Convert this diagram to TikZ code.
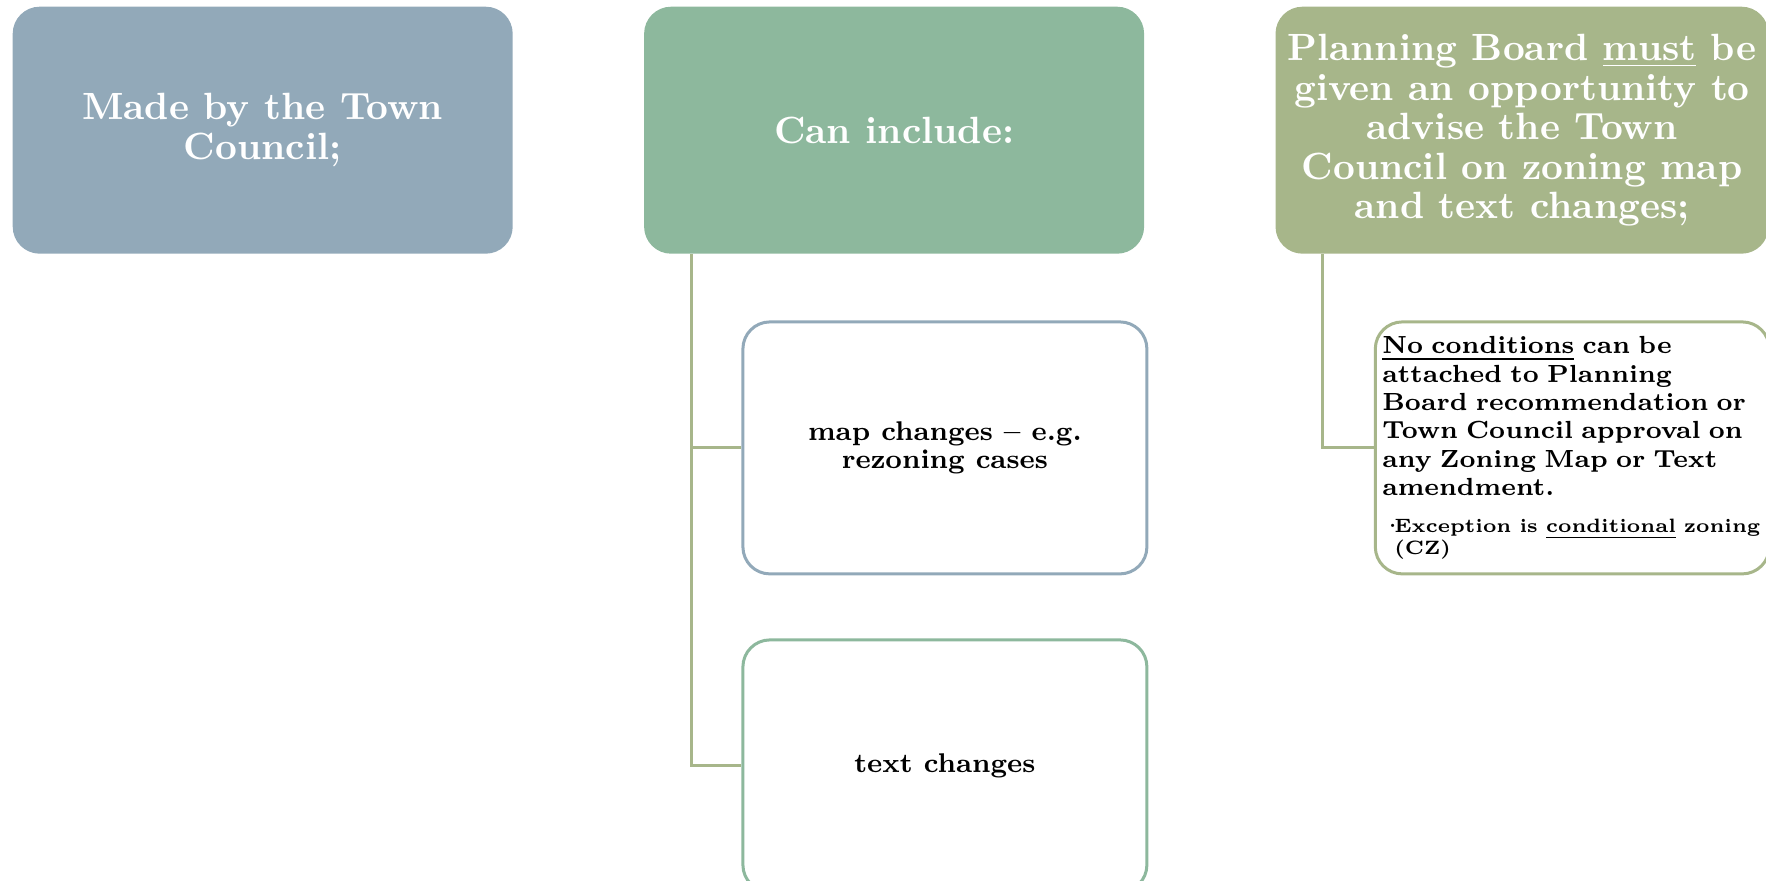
\documentclass[tikz,border=0pt]{standalone}
\usepackage{tikz}
\usetikzlibrary{positioning,calc}
\definecolor{slateblue}{RGB}{146,169,185}
\definecolor{sagegreen}{RGB}{141,184,157}
\definecolor{olivegreen}{RGB}{167,182,138}
\tikzstyle{topbox} = [rounded corners=0.27cm, minimum width=5cm, minimum height=2.47cm, inner xsep=0.05cm, text=white, align=center, font=\fontsize{10.8}{11.24}\selectfont\bfseries]
\tikzstyle{subbox} = [draw, line width=0.03cm, rounded corners=0.27cm, fill=white, minimum height=2.52cm, font=\fontsize{7.7}{8.05}\selectfont\bfseries]
\tikzstyle{branch} = [draw=olivegreen, line width=0.03cm]

\begin{document}
\begin{tikzpicture}[node distance=1.3cm]
    \useasboundingbox (0,0) rectangle (17.66,-8.81);
    % Top row
    \node[topbox, fill=slateblue, anchor=north west] (made) at (0.12,-0.06) {Made by the Town\\Council;};
    \node[topbox, fill=sagegreen, right=of made] (incl) {Can include:};
    \node[topbox, fill=olivegreen, minimum width=4.93cm, right=of incl] (plan) {Planning Board \underline{must} be\\given an opportunity to\\advise the Town\\Council on zoning map\\and text changes;};
    % Sub boxes
    \node[subbox, draw=slateblue, minimum width=4.04cm, align=center, below=0.66cm of incl.south west, anchor=north west, xshift=0.98cm] (mapch) {map changes -- e.g.\\rezoning cases};
    \node[subbox, draw=sagegreen, minimum width=4.04cm, align=center, below=0.63cm of mapch] (txtch) {text changes};
    \node[subbox, draw=olivegreen, font=\fontsize{7.05}{8.05}\selectfont\bfseries, text width=3.8cm, inner xsep=0.07cm, inner ysep=0.05cm, align=left, below=0.66cm of plan.south west, anchor=north west, xshift=0.99cm] (nocond) {\underline{No conditions} can be\\attached to Planning\\Board recommendation or\\Town Council approval on\\any Zoning Map or Text\\amendment.\par\vspace{4.2pt}{\fontsize{5.5}{6.3}\selectfont\mbox{\makebox[0.12cm][l]{\textperiodcentered}Exception is \underline{conditional} zoning}\\\mbox{\hspace{0.12cm}(CZ)}\par}};
    % Lines
    \draw[branch] ($(incl.south west)+(0.48,0)$) |- (mapch.west);
    \draw[branch] ($(incl.south west)+(0.48,0)$) |- (txtch.west);
    \draw[branch] ($(plan.south west)+(0.48,0)$) |- (nocond.west);
\end{tikzpicture}
\end{document}
